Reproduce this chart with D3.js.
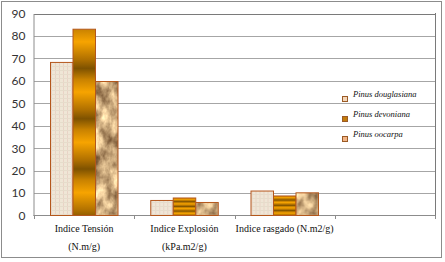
<!DOCTYPE html>
<html>
<head>
<meta charset="utf-8">
<script src="https://cdn.jsdelivr.net/npm/d3@7"></script>
<style>
  body { margin: 0; background: #fff; }
  svg { display: block; }
</style>
</head>
<body>
<div id="chart"></div>
<script>
var width = 445
var height = 262

// data
var categories = ["Indice Tensión", "Indice Explosión", "Indice rasgado", "extra"]
var categoryLabels = [["Indice Tensión", "(N.m/g)"], ["Indice Explosión", "(kPa.m2/g)"], ["Indice rasgado (N.m2/g)"], []]
var seriesNames = ["Pinus douglasiana", "Pinus devoniana", "Pinus oocarpa"]
var douglasiana = [68.2, 6.7, 10.9]
var devoniana = [83, 7.8, 8.7]
var oocarpa = [59.7, 5.8, 10.1]
var yTicks = [0, 10, 20, 30, 40, 50, 60, 70, 80, 90]

var seriesValues = [douglasiana, devoniana, oocarpa]
var fills = ["url(#linen)", "url(#goldbar)", "url(#paper)"]
var legendFills = ["#f4d6b8", "#c47d0c", "#f2b586"]

var svg = d3.select("#chart")
    .append("svg")
    .attr("width", width)
    .attr("height", height)

var defs = svg.append("defs")

// linen texture for douglasiana
var linen = defs.append("pattern")
    .attr("id", "linen")
    .attr("patternUnits", "userSpaceOnUse")
    .attr("width", 4)
    .attr("height", 4)
linen.append("rect").attr("width", 4).attr("height", 4).attr("fill", "#efe6d6")
linen.append("rect").attr("x", 1).attr("width", 1).attr("height", 4).attr("fill", "#e9d3c6")
linen.append("rect").attr("y", 2).attr("width", 4).attr("height", 1).attr("fill", "#e6dccb")

// striped gold for devoniana
var gold = defs.append("linearGradient")
    .attr("id", "goldbar")
    .attr("x1", 0).attr("y1", 0)
    .attr("x2", 0).attr("y2", 0.27)
    .attr("spreadMethod", "repeat")
gold.append("stop").attr("offset", "0%").attr("stop-color", "#c98200")
gold.append("stop").attr("offset", "25%").attr("stop-color", "#f7a400")
gold.append("stop").attr("offset", "60%").attr("stop-color", "#b07000")
gold.append("stop").attr("offset", "78%").attr("stop-color", "#7e5200")
gold.append("stop").attr("offset", "100%").attr("stop-color", "#c98200")

// crumpled paper for oocarpa
var noise = defs.append("filter")
    .attr("id", "crumple")
    .attr("color-interpolation-filters", "sRGB")
    .attr("x", 0).attr("y", 0).attr("width", 1).attr("height", 1)
noise.append("feTurbulence")
    .attr("type", "fractalNoise")
    .attr("baseFrequency", "0.09 0.06")
    .attr("numOctaves", 4)
    .attr("seed", 4)
noise.append("feColorMatrix")
    .attr("type", "matrix")
    .attr("values", "1.1 0 0 0 0.25  1.1 0 0 0 0.12  0.95 0 0 0 0.02  0 0 0 0 1")

var paper = defs.append("pattern")
    .attr("id", "paper")
    .attr("patternUnits", "userSpaceOnUse")
    .attr("width", 120)
    .attr("height", 220)
paper.append("rect")
    .attr("width", 120)
    .attr("height", 220)
    .attr("filter", "url(#crumple)")

// outer chart border
svg.append("rect")
    .attr("x", 1.5).attr("y", 1.5)
    .attr("width", 440).attr("height", 256)
    .attr("fill", "none")
    .attr("stroke", "#8c8c8c")

var x0 = d3.scaleBand().domain(categories).range([34, 435])
var x1 = d3.scaleBand().domain(seriesNames).range([16.5, 84])
var y = d3.scaleLinear().domain([0, 90]).range([215.5, 13.5])

// gridlines
svg.append("g")
    .selectAll("line")
    .data(yTicks.filter(function (d) { return d > 0 }))
    .enter()
    .append("line")
    .attr("x1", 34).attr("x2", 435)
    .attr("y1", function (d) { return Math.round(y(d)) + 0.5 })
    .attr("y2", function (d) { return Math.round(y(d)) + 0.5 })
    .attr("stroke", function (d) { return d == 90 ? "#7a7a7a" : "#a6a6a6" })

// right edge of plot area
svg.append("line")
    .attr("x1", 435.5).attr("x2", 435.5)
    .attr("y1", 13).attr("y2", 216)
    .attr("stroke", "#7a7a7a")

// y axis
var yAxis = svg.append("g")
    .attr("transform", "translate(33.5,0)")
    .call(d3.axisLeft(y).tickValues(yTicks).tickSize(0).tickPadding(8))
yAxis.select(".domain").attr("stroke", "#8c8c8c")
yAxis.selectAll("text")
    .attr("font-family", "Lato, 'Open Sans', sans-serif")
    .attr("font-size", "12px")
    .attr("fill", "#333")

// x axis line and ticks on band edges
var xAxis = svg.append("g")
xAxis.append("line")
    .attr("x1", 33.5).attr("x2", 435)
    .attr("y1", 215.5).attr("y2", 215.5)
    .attr("stroke", "#8c8c8c")
xAxis.selectAll(".tick")
    .data(categories.map(function (d) { return x0(d) }).concat([435]))
    .enter()
    .append("line")
    .attr("x1", function (d) { return Math.round(d) + 0.5 })
    .attr("x2", function (d) { return Math.round(d) + 0.5 })
    .attr("y1", 215.5).attr("y2", 219)
    .attr("stroke", "#8c8c8c")

// category labels
var labels = svg.append("g")
    .selectAll("text")
    .data(categories)
    .enter()
    .append("text")
    .attr("x", function (d) { return x0(d) + x0.bandwidth() / 2 })
    .attr("y", 232)
    .attr("text-anchor", "middle")
    .attr("font-family", "'Liberation Serif', serif")
    .attr("font-size", "10px")
    .attr("fill", "#111")
labels.each(function (d, i) {
    var t = d3.select(this)
    categoryLabels[i].forEach(function (line, j) {
        t.append("tspan")
            .attr("x", x0(d) + x0.bandwidth() / 2)
            .attr("dy", j == 0 ? 0 : 18)
            .text(line)
    })
})

// bars
var groups = svg.append("g")
    .selectAll("g")
    .data(categories.slice(0, 3))
    .enter()
    .append("g")
    .attr("transform", function (d) { return "translate(" + x0(d) + ",0)" })

groups.selectAll("rect")
    .data(function (d, i) {
        return seriesNames.map(function (s, k) {
            return { series: s, k: k, value: seriesValues[k][i] }
        })
    })
    .enter()
    .append("rect")
    .attr("x", function (d) { return x1(d.series) })
    .attr("y", function (d) { return y(d.value) })
    .attr("width", x1.bandwidth())
    .attr("height", function (d) { return y(0) - y(d.value) })
    .attr("fill", function (d) { return fills[d.k] })
    .attr("stroke", "#b4571c")
    .attr("stroke-width", 1)

// legend
var legend = svg.append("g")
    .attr("transform", "translate(342,96)")

var legendEntry = legend.selectAll("g")
    .data(seriesNames)
    .enter()
    .append("g")
    .attr("transform", function (d, i) { return "translate(0," + i * 20 + ")" })

legendEntry.append("rect")
    .attr("x", 0.5).attr("y", 0.5)
    .attr("width", 5).attr("height", 5)
    .attr("fill", function (d, i) { return legendFills[i] })
    .attr("stroke", "#9a5a26")

legendEntry.append("text")
    .attr("x", 11)
    .attr("y", 1)
    .attr("font-family", "'Liberation Serif', serif")
    .attr("font-style", "italic")
    .attr("font-size", "8.5px")
    .attr("fill", "#111")
    .text(function (d) { return d })
</script>
</body>
</html>
